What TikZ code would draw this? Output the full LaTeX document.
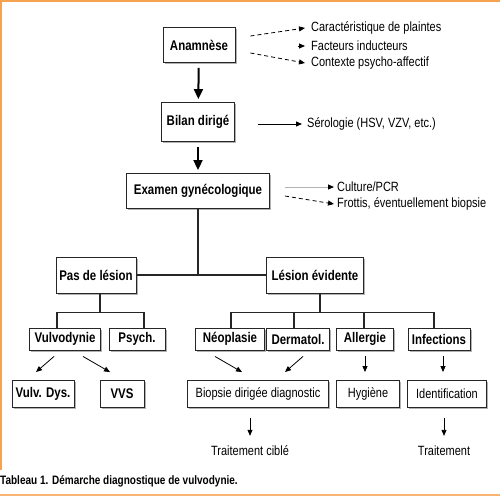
\documentclass[tikz,border=0pt]{standalone}
\usepackage{fontspec}
\setmainfont{Liberation Sans}[FakeStretch=0.82]
\usetikzlibrary{arrows.meta, positioning, shadows}
\definecolor{naranja}{RGB}{247,162,80}

\begin{document}
\begin{tikzpicture}[
  x=1pt, y=-1pt,
  caja/.style={draw=black!85, line width=0.9pt, fill=white, align=center, inner sep=1pt,
               font=\fontsize{14}{16}\selectfont\bfseries,
               drop shadow={shadow xshift=1.6pt, shadow yshift=-1.6pt, fill=black!30, opacity=1}},
  cajafina/.style={caja, font=\fontsize{13.4}{15}\selectfont},
  texto/.style={anchor=west, inner sep=0pt, font=\fontsize{13.4}{15}\selectfont},
  rama/.style={line width=1.8pt, black!85},
  flechagrande/.style={line width=2pt, -{Triangle[width=9pt, length=10pt]},
                       shorten <=5pt, shorten >=3pt},
  flecha/.style={line width=0.8pt, -{Triangle[width=5pt, length=6pt]}},
  flechapunt/.style={flecha, dash pattern=on 4pt off 3pt}
]
\useasboundingbox (0,0) rectangle (500,503);

% marco
\draw[naranja, line width=2pt] (1,470) -- (1,1) -- (500,1);
\draw[naranja!80, line width=1.5pt] (0,495) -- (500,495);

% columna principal
\node[caja, minimum width=72, minimum height=35] (anamnese) at (199,45) {Anamnèse};
\node[caja, minimum width=73, minimum height=39] (bilan) at (198,122) {Bilan dirigé};
\node[caja, minimum width=143, minimum height=35] (examen) at (198,191) {Examen gynécologique};

\node[texto] (caract) at (311,28) {Caractéristique de plaintes};
\node[texto] (facteurs) at (311,46) {Facteurs inducteurs};
\node[texto] (contexte) at (311,63) {Contexte psycho-affectif};
\node[texto] (serologie) at (307,124) {Sérologie (HSV, VZV, etc.)};
\node[texto] (culture) at (337,187) {Culture/PCR};
\node[texto] (frottis) at (337,204) {Frottis, éventuellement biopsie};

\draw[flechagrande] (anamnese) -- (bilan);
\draw[flechagrande] (bilan) -- (examen);

\draw[flechapunt] ([shift={(15,-9)}]anamnese.east) -- ([xshift=-6]caract.west);
\draw[flecha] ([xshift=-13]facteurs.west) -- ([xshift=-6]facteurs.west);
\draw[flechapunt] ([shift={(15,8)}]anamnese.east) -- ([xshift=-6]contexte.west);
\draw[flecha] ([xshift=23]bilan.east |- serologie.west) -- ([xshift=-5]serologie.west);
\draw[flecha, black!30, -{Triangle[black, width=5pt, length=6pt]}]
  ([xshift=15]examen.east |- culture.west) -- ([xshift=-3]culture.west);
\draw[flechapunt] ([shift={(15,5)}]examen.east) -- ([xshift=-3]frottis.west);

% dos ramas
\node[caja, minimum width=80, minimum height=36] (paslesion) at (96,275) {Pas de lésion};
\node[caja, minimum width=97, minimum height=36] (lesion) at (315,275) {Lésion évidente};

\draw[rama] (examen.south) |- (paslesion.east);
\draw[rama] (examen.south) |- (lesion.west);

% tercer nivel
\node[caja, minimum width=71, minimum height=22] (vulvo) at (65,339) {Vulvodynie};
\node[caja, minimum width=56, minimum height=22] (psych) at (137,339) {Psych.};
\node[caja, minimum width=69, minimum height=22] (neo) at (230,339) {Néoplasie};
\node[caja, minimum width=63, minimum height=22] (derma) at (298,339) {Dermatol.};
\node[caja, minimum width=57, minimum height=22] (allergie) at (365,339) {Allergie};
\node[caja, minimum width=62, minimum height=22] (infect) at (439,339) {Infections};

\draw[rama] ([xshift=4]paslesion.south) -- ++(0,19) -| ([xshift=-8]vulvo.north);
\draw[rama] ([xshift=4]paslesion.south) -- ++(0,19) -| ([xshift=7]psych.north);
\foreach \n/\d in {neo/1, derma/-4, allergie/-1, infect/-5}
  \draw[rama] ([xshift=5]lesion.south) -- ++(0,19) -| ([xshift=\d]\n.north);

% cuarto nivel
\node[caja, minimum width=62, minimum height=27] (vulvdys) at (43,394) {Vulv. Dys.};
\node[caja, minimum width=44, minimum height=27] (vvs) at (122,394) {VVS};
\node[cajafina, minimum width=141, minimum height=27] (biopsie) at (258,394) {Biopsie dirigée diagnostic};
\node[cajafina, minimum width=63, minimum height=27] (hygiene) at (368,394) {Hygiène};
\node[cajafina, minimum width=79, minimum height=27] (ident) at (447,394) {Identification};

\draw[flecha] ([shift={(-11,6)}]vulvo.south) -- ([shift={(-7,-8)}]vulvdys.north);
\draw[flecha] ([shift={(18,6)}]vulvo.south) -- ([shift={(-12,-8)}]vvs.north);
\draw[flecha] ([shift={(-15,6)}]neo.south) -- ([shift={(-16,-8)}]biopsie.north);
\draw[flecha] ([shift={(5,6)}]derma.south) -- ([shift={(27,-8)}]biopsie.north);
\draw[flecha, shorten <=6pt, shorten >=8pt] (allergie.south) -- (allergie.south |- hygiene.north);
\draw[flecha, shorten <=6pt, shorten >=8pt] ([xshift=4]infect.south) -- ([xshift=4]infect.south |- ident.north);

% tratamiento
\node[texto, anchor=center] (traitcible) at (250,451) {Traitement ciblé};
\node[texto, anchor=center] (traitement) at (444,451) {Traitement};
\draw[flecha, shorten <=10pt, shorten >=10pt] (traitcible.north |- biopsie.south) -- (traitcible.north);
\draw[flecha, shorten <=10pt, shorten >=10pt] (traitement.north |- ident.south) -- (traitement.north);

\node[anchor=west, inner sep=0pt, font=\fontsize{12.2}{14}\selectfont\bfseries] (leyenda) at (0,481)
  {Tableau 1. Démarche diagnostique de vulvodynie.};
\end{tikzpicture}
\end{document}
